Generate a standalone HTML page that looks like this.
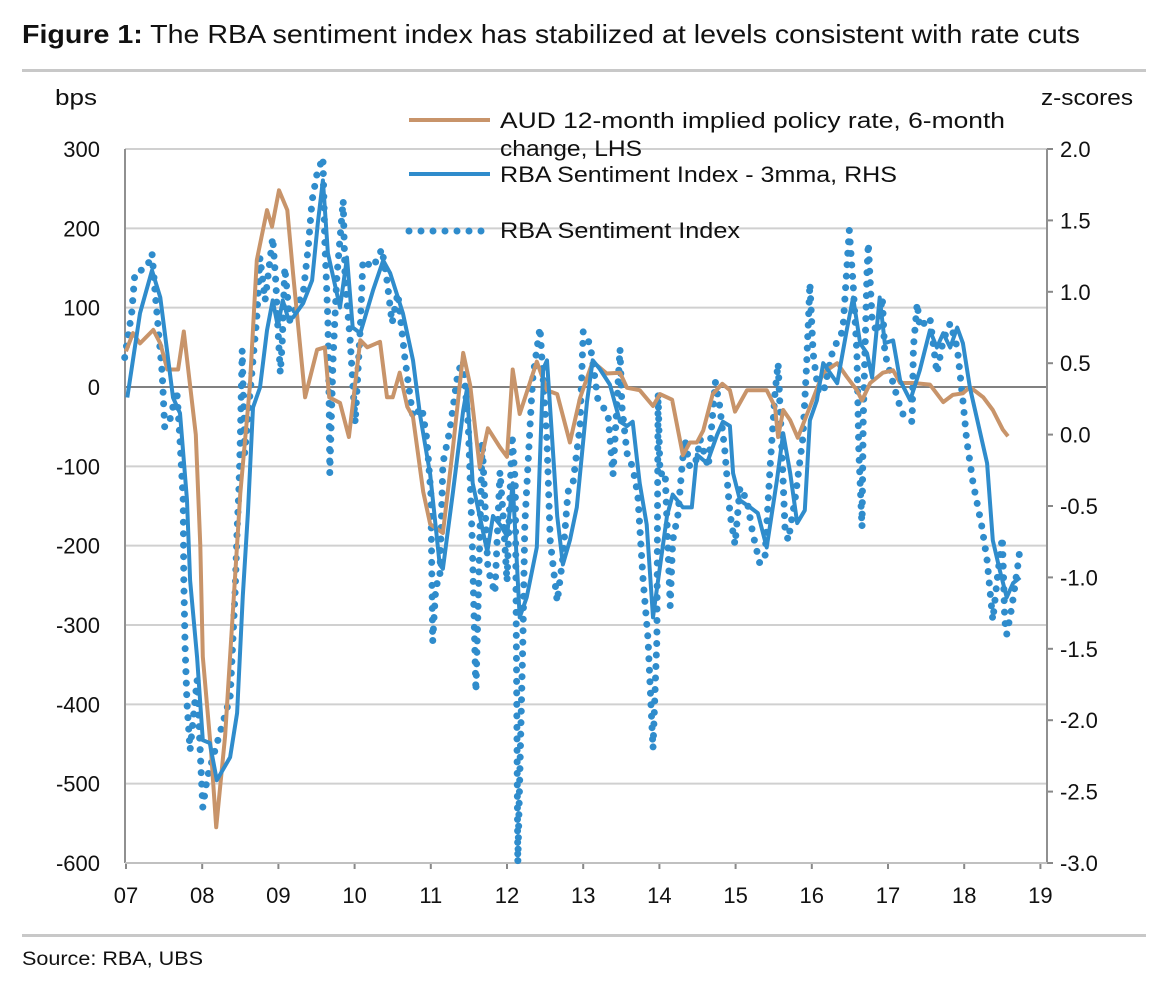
<!DOCTYPE html>
<html><head><meta charset="utf-8"><style>
body{margin:0;background:#fff;width:1158px;height:991px;overflow:hidden;font-family:"Liberation Sans",sans-serif}
svg text{font-family:"Liberation Sans",sans-serif;fill:#111}
</style></head><body>
<svg id="chart" width="1158" height="991" viewBox="0 0 1158 991" xmlns="http://www.w3.org/2000/svg">
<text x="22" y="43" font-size="26" textLength="1058" lengthAdjust="spacingAndGlyphs"><tspan font-weight="bold">Figure 1:</tspan> The RBA sentiment index has stabilized at levels consistent with rate cuts</text>
<rect x="22" y="69" width="1124" height="3" fill="#c8c8c8"/>
<rect x="22" y="934" width="1124" height="3" fill="#c8c8c8"/>
<text x="22" y="965" font-size="19" textLength="181" lengthAdjust="spacingAndGlyphs">Source:  RBA, UBS</text>
<text x="55" y="105" font-size="22" textLength="42" lengthAdjust="spacingAndGlyphs">bps</text>
<text x="1041" y="105" font-size="22" textLength="92" lengthAdjust="spacingAndGlyphs">z-scores</text>
<g id="grid"></g><g id="axes"></g><g id="series"></g>
<g>
<line x1="409" y1="120" x2="490" y2="120" stroke="#c8946a" stroke-width="4"/>
<text x="500" y="128" font-size="22" textLength="505" lengthAdjust="spacingAndGlyphs">AUD 12-month implied policy rate, 6-month</text>
<text x="500" y="156" font-size="22" textLength="142" lengthAdjust="spacingAndGlyphs">change, LHS</text>
<line x1="409" y1="174" x2="490" y2="174" stroke="#2f8ccc" stroke-width="4"/>
<text x="500" y="182" font-size="22" textLength="397" lengthAdjust="spacingAndGlyphs">RBA Sentiment Index - 3mma, RHS</text>
<line x1="409" y1="231" x2="490" y2="231" stroke="#2f8ccc" stroke-width="7" stroke-linecap="round" stroke-dasharray="0 12"/>
<text x="500" y="238" font-size="22" textLength="240" lengthAdjust="spacingAndGlyphs">RBA Sentiment Index</text>
</g>
</svg>
<script>
// months since Jan 2007
const orangeMonths=[0,1.1,2.2,4.3,5.4,6.5,8.2,9.1,11.0,11.7,12.1,13.4,14.2,15.6,18.0,19.5,20.6,22.2,23.0,24.1,25.4,26.3,28.2,30.1,31.3,32.0,33.7,35.1,36.9,38.0,40.0,41.1,42.0,43.1,44.3,45.2,46.8,47.9,49.9,51.5,53.1,54.2,55.7,57.0,58.9,60.0,60.9,62.0,64.7,66.3,67.9,69.9,71.5,73.5,75.7,77.8,78.9,80.9,83.0,84.1,86.0,87.7,88.8,89.9,90.9,92.4,93.9,95.1,95.9,97.8,100.9,102.2,102.7,103.5,104.6,105.8,107.7,109.8,112.0,113.5,115.1,115.9,117.2,119.2,120.8,121.9,124.0,126.6,128.7,130.2,131.8,132.9,135.0,136.5,138.1,138.9];
const orangeValues=[45,68,55,72,55,22,22,70,-60,-200,-340,-460,-555,-440,-134,0,160,223,202,248,223,144,-13,47,50,-13,-20,-63,59,50,57,-13,-13,18,-25,-38,-132,-173,-184,-76,43,2,-101,-52,-76,-88,22,-34,32,-4,-9,-70,-14,32,17,18,-1,-4,-24,-9,-16,-86,-70,-70,-55,-9,4,-4,-31,-4,-4,-25,-63,-29,-42,-64,-25,18,30,13,-4,-17,5,18,21,5,5,3,-19,-10,-8,0,-13,-29,-54,-62];
const smaMonths=[0.2,2.2,4.1,5.4,7.4,8.5,9.6,10.1,11.2,12.1,13.2,14.3,16.4,17.5,18.4,19.2,20.0,21.1,22.2,23.1,23.9,24.7,25.5,26.3,27.9,29.3,30.2,31.0,31.8,33.7,34.8,35.7,36.9,38.9,40.5,41.6,43.6,45.2,46.3,47.9,49.4,49.9,51.5,53.1,53.7,54.6,56.9,57.8,58.9,60.0,60.9,62.0,63.1,64.7,65.7,66.3,67.9,68.8,69.9,71.0,72.6,73.5,74.6,76.2,77.8,78.9,79.8,80.9,82.0,83.0,83.6,85.2,86.1,87.7,89.1,89.9,91.5,93.1,94.0,95.1,95.6,96.7,98.3,99.5,100.9,102.5,103.5,104.6,105.7,106.9,107.7,108.8,109.8,112.0,113.5,114.5,115.6,116.7,117.5,118.7,119.5,120.8,121.9,123.5,125.0,126.6,127.7,128.7,129.8,130.9,131.8,132.9,135.6,136.5,137.6,138.7,139.7,140.8];
const smaValues=[0.26,0.85,1.15,0.96,0.26,0.15,-0.46,-1.02,-1.56,-2.14,-2.16,-2.42,-2.26,-1.95,-1.13,-0.55,0.19,0.33,0.73,0.94,0.76,0.94,0.82,0.82,0.92,1.08,1.48,1.78,1.27,0.89,1.24,0.75,0.71,1.01,1.22,1.13,0.85,0.52,0.14,-0.28,-0.91,-0.94,-0.40,0.17,0.32,-0.34,-0.82,-0.57,-0.63,-0.71,-0.34,-1.28,-1.14,-0.79,0.46,0.52,-0.57,-0.91,-0.74,-0.51,0.23,0.52,0.46,0.35,0.09,0.06,0.09,-0.34,-0.63,-1.28,-1.08,-0.57,-0.42,-0.51,-0.51,-0.14,-0.20,0.00,0.09,0.06,-0.27,-0.46,-0.51,-0.55,-0.79,-0.32,0.01,-0.27,-0.62,-0.53,0.10,0.24,0.50,0.36,0.73,0.96,0.64,0.57,0.40,0.96,0.64,0.66,0.38,0.24,0.45,0.73,0.61,0.71,0.61,0.75,0.64,0.33,-0.20,-0.74,-0.95,-1.14,-1.04,-1.00];
const idxMonths=[-0.2,0.9,1.4,3.3,4.1,4.6,5.0,5.7,6.1,6.9,8.0,8.5,9.0,9.1,9.3,9.6,10.1,11.2,11.7,12.1,12.8,16.4,17.2,17.5,17.8,18.0,18.3,18.7,20.6,21.1,21.9,23.1,23.6,23.9,24.3,24.6,25.0,25.8,27.9,28.7,29.3,30.1,31.0,31.3,31.8,32.0,32.1,32.6,33.2,34.2,34.5,35.3,36.1,36.9,37.3,38.9,40.3,41.1,41.9,42.8,43.9,45.2,46.6,47.4,48.0,48.3,48.8,49.4,49.9,51.0,52.3,53.1,53.9,54.5,55.1,56.1,57.0,58.1,58.9,59.4,60.0,60.8,61.3,61.7,62.5,62.8,63.9,64.1,65.2,66.3,66.8,67.9,68.8,69.6,70.4,71.5,72.0,73.1,74.3,75.9,76.7,77.8,78.1,78.9,79.8,80.6,81.4,82.2,83.0,83.6,83.8,84.1,84.9,85.7,86.1,86.9,87.6,88.0,88.8,89.9,90.4,91.7,92.8,93.5,94.3,95.1,95.9,96.7,97.8,98.7,99.8,100.6,101.4,102.2,102.7,103.3,103.8,104.3,105.4,106.6,107.2,107.7,108.2,109.0,109.8,111.3,112.9,113.5,113.9,114.5,115.1,115.4,115.9,116.1,116.7,116.9,117.5,118.3,119.1,119.5,120.8,122.2,123.8,124.0,124.6,125.0,126.6,127.7,128.7,129.8,130.9,131.8,132.4,133.4,134.8,135.6,136.5,137.3,138.0,138.4,138.7,139.5,140.5,140.8];
const idxValues=[0.54,0.85,1.13,1.17,1.27,0.99,0.78,0.43,0.05,0.10,0.31,-0.04,-0.46,-1.02,-1.49,-1.88,-2.21,-1.72,-2.23,-2.61,-2.40,-1.84,-1.09,-0.67,-0.37,-0.04,0.59,-0.13,0.82,1.24,0.94,1.38,1.06,0.76,0.43,0.64,1.17,0.80,0.99,1.31,1.64,1.83,1.94,1.36,0.80,0.19,-0.27,0.52,1.10,1.64,1.08,0.66,0.08,0.75,1.22,1.17,1.30,1.08,0.78,0.99,0.54,0.12,0.19,-0.04,-0.41,-1.45,-1.05,-1.03,-0.20,0.03,0.44,0.52,0.06,-0.71,-1.80,-0.05,-0.94,-1.11,-0.26,-0.57,-1.03,0.00,-0.34,-3.0,-1.43,-0.63,0.29,0.41,0.75,-0.05,-0.74,-1.17,-0.86,-0.40,-0.34,0.06,0.72,0.63,0.25,0.14,-0.28,0.60,0.20,-0.13,-0.23,-0.42,-1.00,-1.43,-2.20,-1.43,0.29,-0.28,-0.26,-1.20,-0.74,-0.57,-0.20,-0.03,-0.23,-0.17,-0.03,-0.23,0.37,0.20,-0.11,-0.55,-0.77,-0.37,-0.46,-0.69,-0.90,-0.88,-0.25,0.29,0.50,-0.13,-0.67,-0.74,-0.44,-0.02,0.50,1.06,0.57,0.31,0.29,0.59,0.73,1.15,1.43,1.06,0.57,-0.11,-0.65,0.10,1.13,1.34,0.80,0.71,0.96,0.57,0.36,0.15,0.09,0.61,0.92,0.75,0.82,0.43,0.66,0.78,0.61,0.24,-0.04,-0.34,-0.65,-0.88,-1.30,-0.97,-0.72,-1.30,-1.40,-1.21,-0.90,-0.79];
const leftTicks=[300,200,100,0,-100,-200,-300,-400,-500,-600];
const rightTicks=["2.0","1.5","1.0","0.5","0.0","-0.5","-1.0","-1.5","-2.0","-2.5","-3.0"];
const yearLabels=["07","08","09","10","11","12","13","14","15","16","17","18","19"];

const NS="http://www.w3.org/2000/svg";
const X0=126,PXM=6.35,YTOP=149,YBOT=863,L=125,R=1047;
const xs=m=>X0+m*PXM;
const yl=v=>YTOP+(300-v)*(YBOT-YTOP)/900;
const yr=z=>YTOP+(2-z)*(YBOT-YTOP)/5;
function mk(tag,attrs,parent){const e=document.createElementNS(NS,tag);for(const k in attrs)e.setAttribute(k,attrs[k]);parent.appendChild(e);return e;}
const grid=document.getElementById('grid'),axes=document.getElementById('axes'),series=document.getElementById('series');
leftTicks.forEach(v=>{
  const y=yl(v);
  if(v!==-600&&v!==0){const g=mk('line',{x1:L,x2:R,y1:y,y2:y,stroke:'#d0d0d0','stroke-width':2},grid);
  
  }
  const t=mk('text',{x:100,y:y+8,'text-anchor':'end','font-size':22},axes);t.textContent=v;
  
  
});
rightTicks.forEach(s=>{
  const y=yr(parseFloat(s));
  const tk=mk('line',{x1:R,x2:R+6,y1:y,y2:y,stroke:'#888','stroke-width':2},axes);
  
  
  const t=mk('text',{x:1060,y:y+8,'font-size':22},axes);t.textContent=s;
  
  
});
yearLabels.forEach((s,i)=>{
  const x=xs(i*12);
  const tk=mk('line',{x1:x,x2:x,y1:YBOT,y2:YBOT+6,stroke:'#888','stroke-width':2},axes);
  
  
  const t=mk('text',{x:x,y:903,'text-anchor':'middle','font-size':22},axes);t.textContent=s;
  
  
});
const zl=mk('line',{x1:L,x2:R,y1:yl(0),y2:yl(0),stroke:'#808080','stroke-width':2},axes);


const la=mk('line',{x1:L,x2:L,y1:YTOP,y2:YBOT,stroke:'#909090','stroke-width':2},axes);


const ra=mk('line',{x1:R,x2:R,y1:YTOP,y2:YBOT,stroke:'#909090','stroke-width':2},axes);


const ba=mk('line',{x1:L,x2:R,y1:YBOT,y2:YBOT,stroke:'#c0c0c0','stroke-width':2},axes);


const tg=mk('line',{x1:L,x2:R,y1:YTOP,y2:YTOP,stroke:'#d0d0d0','stroke-width':2},grid);



function pts(ms,vs,f){return ms.map((m,i)=>xs(m).toFixed(1)+','+f(vs[i]).toFixed(1)).join(' ');}
const p3=mk('polyline',{points:pts(idxMonths,idxValues,yr),fill:'none',stroke:'#2f8ccc','stroke-width':7,'stroke-linecap':'round','stroke-dasharray':'0 11.5'},series);


const p1=mk('polyline',{points:pts(orangeMonths,orangeValues,yl),fill:'none',stroke:'#c8946a','stroke-width':4,'stroke-linejoin':'round'},series);


const p2=mk('polyline',{points:pts(smaMonths,smaValues,yr),fill:'none',stroke:'#2f8ccc','stroke-width':4,'stroke-linejoin':'round'},series);


</script>
</body></html>
